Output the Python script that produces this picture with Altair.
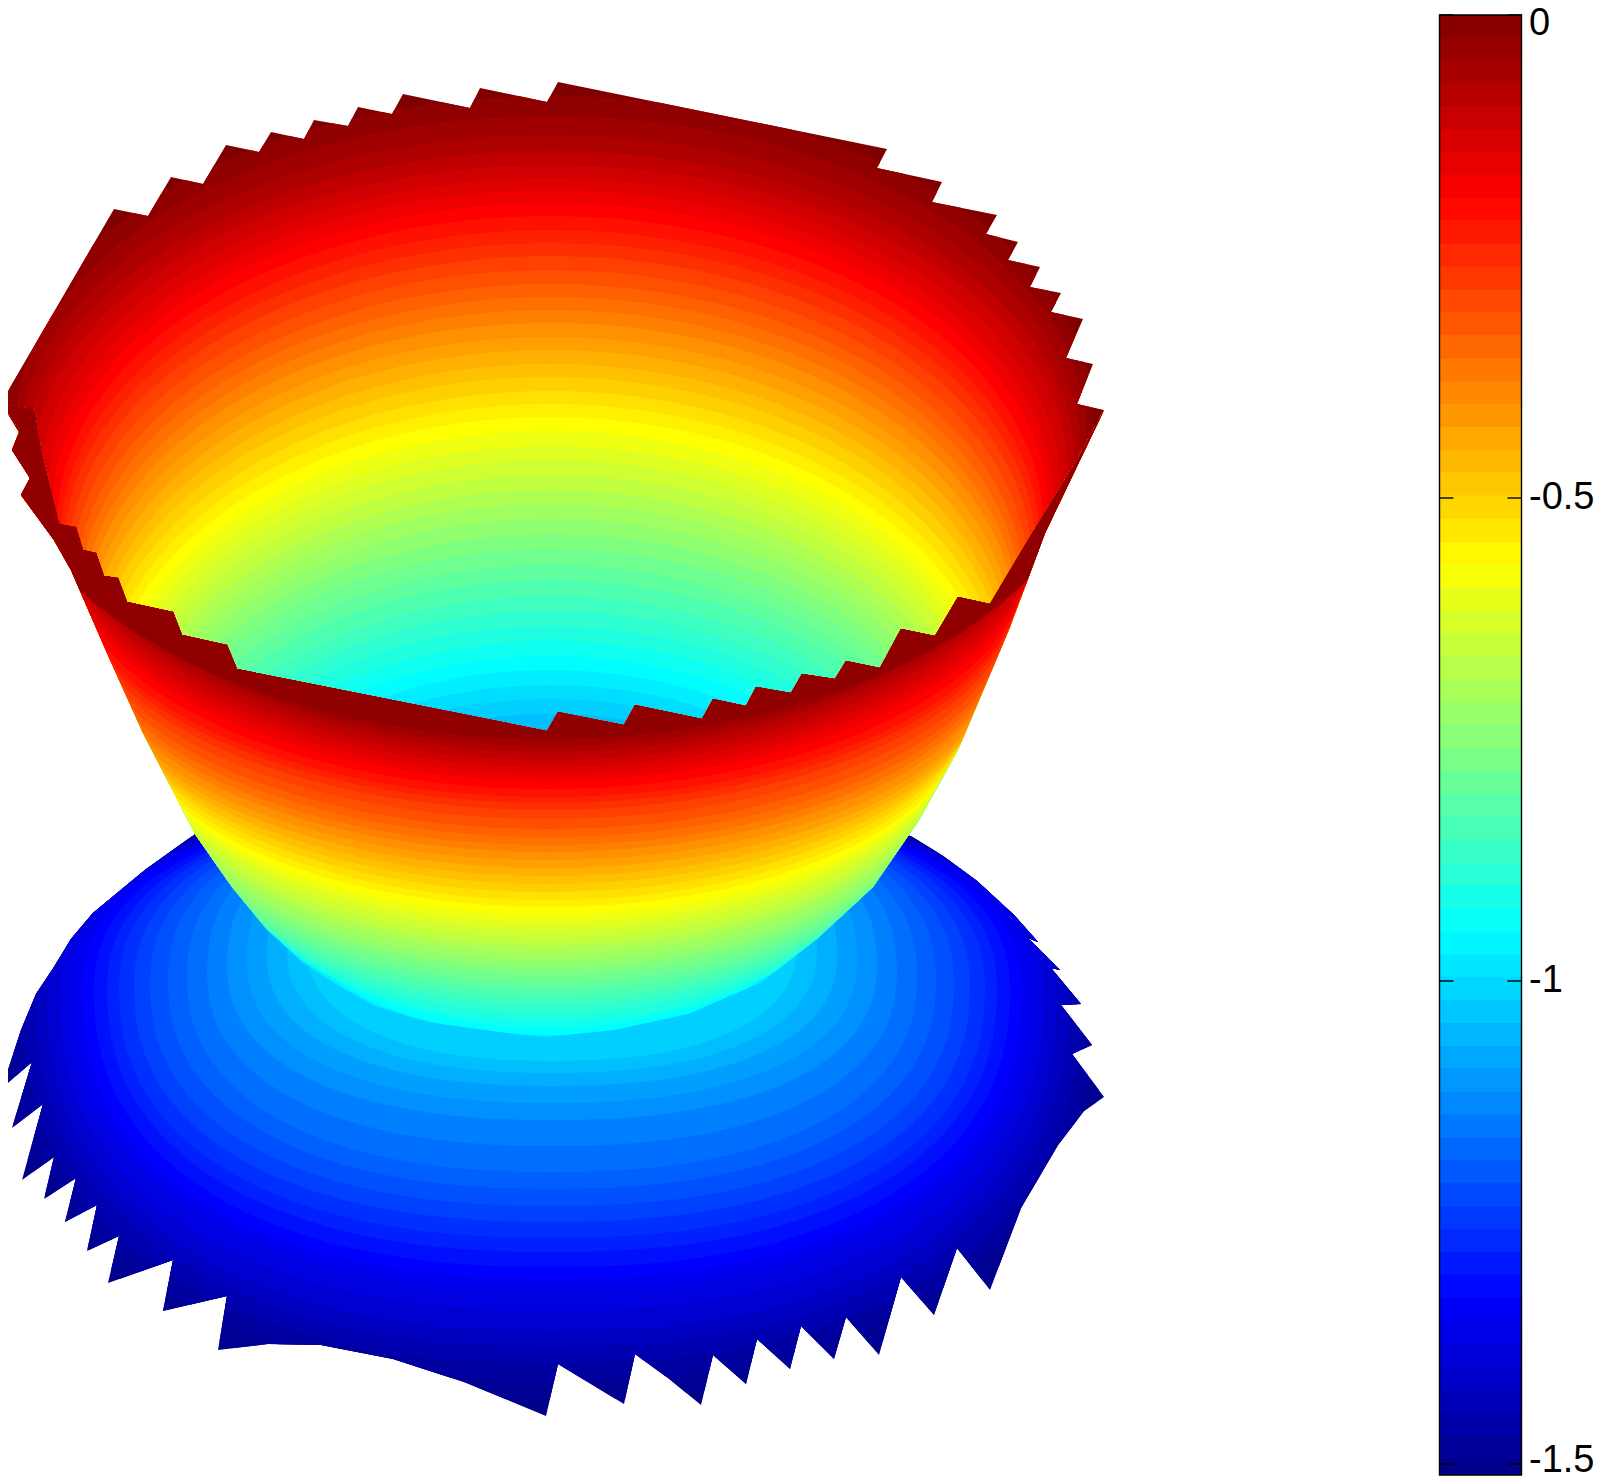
import math
import altair as alt
import pandas as pd

alt.data_transformers.disable_max_rows()

# ---- colour bar -------------------------------------------------------------
cbar_levels = [-0.012, -0.036, -0.059, -0.083, -0.107, -0.131, -0.154, -0.178,
               -0.202, -0.225, -0.249, -0.273, -0.297, -0.320, -0.344, -0.368,
               -0.392, -0.415, -0.439, -0.463, -0.486, -0.510, -0.534, -0.558,
               -0.581, -0.605, -0.629, -0.653, -0.676, -0.700, -0.724, -0.747,
               -0.771, -0.795, -0.819, -0.842, -0.866, -0.890, -0.914, -0.937,
               -0.961, -0.985, -1.008, -1.032, -1.056, -1.080, -1.103, -1.127,
               -1.151, -1.175, -1.198, -1.222, -1.246, -1.269, -1.293, -1.317,
               -1.341, -1.364, -1.388, -1.412, -1.436, -1.459, -1.483, -1.507]
cbar_half = 0.0125
cbar_ticks = [0, -0.5, -1, -1.5]
zmin = -1.5186
bar_bottom_value = -1.5114

# ---- outlines (x, y in picture pixels) -------------------------------------
brim_outline = [(195,834),(145,870),(93,913),(71,939),(54,967),(36,994),(21,1030),(2,1088),
    (32,1062),(12,1128),(43,1104),(22,1180),(54,1157),(44,1199),(76,1178),(65,1222),(97,1205),
    (87,1251),(119,1236),(108,1283),(173,1260),(163,1311),(227,1296),(218,1350),(268,1344),
    (321,1345),(393,1359),(464,1382),(546,1416),(558,1364),(624,1404),(635,1354),(668,1378),
    (701,1405),(713,1355),(746,1384),(757,1339),(790,1369),(801,1326),(834,1359),(846,1317),
    (879,1355),(901,1277),(934,1315),(957,1248),(990,1290),(1021,1208),(1058,1145),(1084,1111),
    (1104,1097),(1072,1054),(1092,1045),(1061,1005),(1081,1004),(1051,968),(1060,970),(1028,938),
    (1038,942),(1014,915),(977,881),(943,856),(911,836),(700,780),(400,780)]

bowl_outline = [(1,403),(114,209),(148,216),(171,177),(203,184),(226,145),(259,152),(271,132),
    (304,139),(314,120),(348,126),(358,107),(392,114),(403,94),(470,108),(480,88),(547,102),
    (558,82),(887,149),(877,168),(942,182),(932,202),(997,215),(986,234),(1018,242),(1008,260),
    (1040,267),(1030,287),(1061,293),(1051,312),(1083,319),(1066,358),(1093,364),(1077,404),
    (1104,410),(1040,540),(990,640),(547,760),(115,640),(58,530),(30,450)]

front_outline = [(1,403),(34,410),(41,450),(59,523),(64,525),(76,527),(83,550),(96,553),(104,576),
    (118,578),(127,602),(173,612),(182,635),(227,645),(237,669),(547,731),(558,712),(624,725),
    (635,705),(702,719),(713,699),(746,706),(756,687),(791,693),(802,674),(835,679),(846,661),
    (880,668),(901,629),(935,636),(958,597),(990,604),(1028,540),(1077,460),(1104,410),(1045,533),
    (1010,627),(958,750),(919,820),(873,887),(817,939),(762,982),(688,1014),(614,1030),(545,1037),
    (500,1032),(428,1022),(375,1006),(339,986),(303,963),(268,931),(232,887),(195,834),(143,733),
    (107,653),(71,570),(54,540),(21,495),(30,478),(12,450),(20,430)]

# ---- level contours --------------------------------------------------------
bowl_v  = [-.024,-.0475,-.071,-.095,-.119, -.1425,-.166,-.19,-.214,-.2375, -.261,-.285,-.309,-.3325,-.356,
           -.38,-.404,-.4275,-.451,-.475, -.499,-.5225,-.546,-.57,-.594, -.6175,-.641,-.665,-.689,-.7125,
           -.736,-.76,-.784,-.8075,-.831, -.855,-.879,-.9025,-.926,-.95, -.974,-.9975,-1.021,-1.045,-1.069]
bowl_cy = [419,432,445,458,471, 484,497,510,523,536, 549,561,574,587,600, 613,626,639,652,665,
           678,691,704,717,730, 743,756,769,782,794, 807,820,833,846,859, 872,885,898,911,924,
           937,950,963,976,989]
bowl_r  = [543,536,530,524,518, 510,503,498,493,489, 486,482,478,474,471, 468,466,463,460,457,
           455,452,449,447,444, 441,438,435,432,429, 426,423,420,416,412, 406,400,394,388,383,
           378,374,370,365,360]
bowl_b  = [323,316,310,307,306, 306,307,307,307,306, 306,305,304,303,303, 303,303,302,302,301,
           301,300,300,300,299, 297,296,294,292,290, 288,286,284,281,279, 276,274,272,270,268,
           267,265,264,262,260]
bowl_cx = 550

front_v = [-.95,-.926,-.9025,-.879,-.855, -.831,-.8075,-.784,-.76,-.736, -.7125,-.689,-.665,-.641,-.6175,
           -.594,-.57,-.546,-.5225,-.499, -.475,-.451,-.4275,-.404,-.38, -.356,-.3325,-.309,-.285,-.261,
           -.2375,-.214,-.19,-.166,-.1425, -.119,-.095,-.071,-.0475,-.024]
front_c = [918,902,887,872,858, 845,832,820,808,797, 786,775,765,755,744, 734,725,716,707,698,
           689,680,671,662,652, 642,631,620,608,597, 586,575,557,535,515, 495,472,450,430,410]
front_r = [250,265,292,305,322, 335,348,358,368,375, 380,385,390,395,400, 405,410,416,420,424,
           430,436,441,446,448, 452,456,460,464,467, 470,474,480,488,496, 503,512,522,532,560]
front_b = [117,126,134,141,147, 153,158,163,167,171, 175,178,181,183,186, 189,190,191,193,194,
           195,196,197,198,200, 203,206,209,211,213, 217,222,232,246,259, 272,288,302,316,329]
front_cx = 548
front_base = -0.97

brim_v  = [-1.495,-1.472,-1.448,-1.424,-1.400,-1.376,-1.353,-1.329,-1.305,-1.281,-1.258,-1.234,
           -1.210,-1.187,-1.163,-1.139,-1.115,-1.092,-1.068,-1.044,-1.020]
brim_cy = [1000,999,998,997,996,994,992,991,990,989,988,986,984,980,976,971,966,961,956,951,946]
brim_r  = [555,542,530,517,505,493,482,470,458,445,433,418,402,384,365,345,325,305,285,265,245]
brim_bd = [400,382,365,350,335,317,300,288,277,263,250,236,222,209,196,175,154,142,130,122,115]
brim_bu = [200,200,200,200,200,199,198,197,196,195,194,192,190,188,185,183,180,178,175,173,170]
brim_cx = 552
brim_exp = 2.3
brim_base = -1.51


def oval(cx, cy, r, bd, bu, n=2.0, steps=96):
    pts = []
    for k in range(steps):
        t = 2 * math.pi * k / steps
        c, s = math.cos(t), math.sin(t)
        x = cx + r * math.copysign(abs(c) ** (2 / n), c)
        b = bd if s > 0 else bu
        y = cy + b * math.copysign(abs(s) ** (2 / n), s)
        pts.append((x, y))
    return pts


def smile(cx, cy, r, b, steps=64):
    """lower half of an oval, closed far above the picture"""
    pts = [(cx + r * math.cos(math.pi * k / steps), cy + b * math.sin(math.pi * k / steps))
           for k in range(steps + 1)]
    return pts + [(cx - r, -50), (cx + r, -50)]


def above(cy):
    return [(2000, cy), (-100, cy), (-100, -100), (2000, -100)]


def clip(subject, convex):
    out = list(subject)
    m = len(convex)
    for i in range(m):
        ax, ay = convex[i]
        bx, by = convex[(i + 1) % m]
        inp, out = out, []
        if not inp:
            break
        side = lambda p: (bx - ax) * (p[1] - ay) - (by - ay) * (p[0] - ax)
        prev = inp[-1]
        for cur in inp:
            sc, sp = side(cur), side(prev)
            if (sc >= 0) != (sp >= 0):
                f = sp / (sp - sc)
                out.append((prev[0] + f * (cur[0] - prev[0]), prev[1] + f * (cur[1] - prev[1])))
            if sc >= 0:
                out.append(cur)
            prev = cur
    return out


rows = []
band = 0


def add(poly, v):
    global band
    if not poly:
        return
    band += 1
    for i, (x, y) in enumerate(poly + poly[:1]):
        rows.append({"x": round(x, 1), "y": round(y, 1), "v": v, "band": band, "i": i})


add(brim_outline, brim_base)
for v, cy, r, bd, bu in zip(brim_v, brim_cy, brim_r, brim_bd, brim_bu):
    add(clip(brim_outline, oval(brim_cx, cy, r, bd, bu, brim_exp)), v)

add(bowl_outline, 0.0)
for v, cy, r, b in zip(bowl_v, bowl_cy, bowl_r, bowl_b):
    add(clip(bowl_outline, oval(bowl_cx, cy, r, b, b)), v)

add(front_outline, front_base)
for v, c, r, b in zip(front_v, front_c, front_r, front_b):
    add(clip(front_outline, smile(front_cx, c, r, b)), v)
    add(clip(front_outline, above(c)), v)

surface = pd.DataFrame(rows)

color_scale = alt.Scale(domain=[zmin, -1.329, -0.949, -0.569, -0.19, 0],
                        range=["#000083", "#0000ff", "#00ffff", "#ffff00", "#ff0000", "#800000"],
                        interpolate="rgb")

surf = alt.Chart(surface).mark_line(strokeWidth=0, interpolate="linear").encode(
    x=alt.X("x:Q", scale=alt.Scale(domain=[0, 1603]), axis=None),
    y=alt.Y("y:Q", scale=alt.Scale(domain=[1484, 0]), axis=None),
    fill=alt.Fill("v:Q", scale=color_scale, legend=None),
    detail="band:O",
    order="i:Q",
)

cbar = pd.DataFrame({"v": cbar_levels,
                     "top": [v + cbar_half for v in cbar_levels],
                     "bot": [v - cbar_half for v in cbar_levels]})
bar_scale = alt.Scale(domain=[bar_bottom_value, 0], range=[1475, 15], nice=False, zero=False, clamp=True)
bar_left, bar_right, tick_len = 1439.5, 1521.5, 14
bar_axis = alt.Axis(orient="right", values=cbar_ticks, title=None, domain=False, ticks=False,
                    grid=False, offset=bar_right - 1603, labelPadding=7,
                    labelFont="Liberation Sans", labelFontSize=38, labelColor="black",
                    labelOverlap=False, labelFlush=False, labelExpr="'' + datum.value",
                    labelOffset={"condition": [{"test": "datum.value === 0", "value": 8},
                                               {"test": "datum.value === -1.5", "value": -3}],
                                 "value": 0})

bar_rect = alt.Chart(cbar).mark_rect().encode(
    x=alt.value(bar_left), x2=alt.value(bar_right),
    y=alt.Y("top:Q", scale=bar_scale, axis=bar_axis),
    y2="bot:Q",
    fill=alt.Fill("v:Q", scale=color_scale, legend=None),
)
frame = alt.Chart(pd.DataFrame({"a": [0.0], "b": [bar_bottom_value]})).mark_rect(
    filled=False, stroke="black", strokeWidth=1.4).encode(
    x=alt.value(bar_left), x2=alt.value(bar_right),
    y=alt.Y("a:Q", scale=bar_scale, axis=bar_axis), y2="b:Q")
ticks_df = pd.DataFrame({"t": cbar_ticks})
tick_l = alt.Chart(ticks_df).mark_rule(color="black", strokeWidth=1.4).encode(
    x=alt.value(bar_left), x2=alt.value(bar_left + tick_len),
    y=alt.Y("t:Q", scale=bar_scale, axis=bar_axis))
tick_r = alt.Chart(ticks_df).mark_rule(color="black", strokeWidth=1.4).encode(
    x=alt.value(bar_right - tick_len), x2=alt.value(bar_right),
    y=alt.Y("t:Q", scale=bar_scale, axis=bar_axis))

chart = alt.layer(surf, alt.layer(bar_rect, frame, tick_l, tick_r)).resolve_scale(y="independent").properties(
    width=1603, height=1484,
    padding={"left": -8, "top": -8, "right": -8, "bottom": -8},
    autosize=alt.AutoSizeParams(type="none"),
).configure_view(stroke=None)

chart.save("out.html", embed_options={"renderer": "svg", "actions": False})
